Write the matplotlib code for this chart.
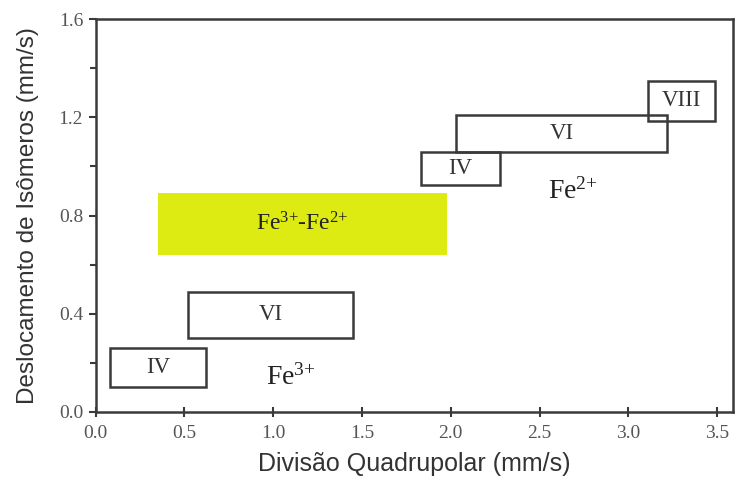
import matplotlib
matplotlib.use("Agg")
import matplotlib.pyplot as plt
from matplotlib.patches import Rectangle
from matplotlib.ticker import MultipleLocator

plt.rcParams['mathtext.fontset'] = 'custom'
plt.rcParams['mathtext.rm'] = 'Liberation Serif'
plt.rcParams['mathtext.it'] = 'Liberation Serif'

# site boxes: (x0, x1, y0, y1, label)
box_x0 = [0.08, 0.52, 1.83, 2.03, 3.11]
box_x1 = [0.62, 1.45, 2.28, 3.22, 3.49]
box_y0 = [0.10, 0.30, 0.925, 1.06, 1.185]
box_y1 = [0.26, 0.49, 1.06, 1.21, 1.35]
box_labels = ['IV', 'VI', 'IV', 'VI', 'VIII']

# mixed valence band
mix_x = [0.35, 1.98]
mix_y = [0.64, 0.89]
mix_label = r'Fe$^{\mathregular{3{+}}}$-Fe$^{\mathregular{2{+}}}$'

# ion labels
ion_labels = [r'Fe$^{\mathregular{3{+}}}$', r'Fe$^{\mathregular{2{+}}}$']
ion_x = [1.10, 2.69]
ion_y = [0.14, 0.90]

xticks = [0.0, 0.5, 1.0, 1.5, 2.0, 2.5, 3.0, 3.5]
yticks = [0.0, 0.4, 0.8, 1.2, 1.6]

fig = plt.figure(figsize=(7.36, 4.79), dpi=100)
ax = fig.add_axes([0.130, 0.140, 0.866, 0.820])

edge = '#3a3a3a'
serif = 'Liberation Serif'

ax.add_patch(Rectangle((mix_x[0], mix_y[0]), mix_x[1] - mix_x[0], mix_y[1] - mix_y[0],
                       facecolor='#deeb12', edgecolor='none', zorder=1))
ax.text((mix_x[0] + mix_x[1]) / 2, (mix_y[0] + mix_y[1]) / 2, mix_label,
        ha='center', va='center', fontsize=17, family=serif, color='#222222', zorder=3)

for x0, x1, y0, y1, lab in zip(box_x0, box_x1, box_y0, box_y1, box_labels):
    ax.add_patch(Rectangle((x0, y0), x1 - x0, y1 - y0, facecolor='none',
                           edgecolor=edge, linewidth=1.8, zorder=2))
    ax.text((x0 + x1) / 2, (y0 + y1) / 2, lab, ha='center', va='center',
            fontsize=16.5, family=serif, color='#333333', zorder=3)

for lab, x, y in zip(ion_labels, ion_x, ion_y):
    ax.text(x, y, lab, ha='center', va='center', fontsize=20, family=serif, color='#222222')

ax.set_xlim(0, 3.59)
ax.set_ylim(0, 1.6)
ax.set_xticks(xticks)
ax.set_yticks(yticks)
ax.set_xticklabels(['%.1f' % v for v in xticks], family=serif, fontsize=14, color='#555555')
ax.set_yticklabels(['%.1f' % v for v in yticks], family=serif, fontsize=14, color='#555555')
ax.yaxis.set_minor_locator(MultipleLocator(0.2))
ax.tick_params(axis='y', which='major', direction='out', length=5, width=1.5, color=edge, pad=4)
ax.tick_params(axis='y', which='minor', direction='out', length=4, width=1.5, color=edge)
ax.tick_params(axis='x', which='major', direction='inout', length=7, width=1.5, color=edge, pad=6)

for s in ax.spines.values():
    s.set_linewidth(1.8)
    s.set_color(edge)

ax.set_xlabel('Divisão Quadrupolar (mm/s)', family='Liberation Sans', fontsize=18,
              color='#333333', labelpad=7)
ax.set_ylabel('Deslocamento de Isômeros (mm/s)', family='Liberation Sans', fontsize=17.5,
              color='#333333', labelpad=14)

fig.savefig('out.png', dpi=100)
